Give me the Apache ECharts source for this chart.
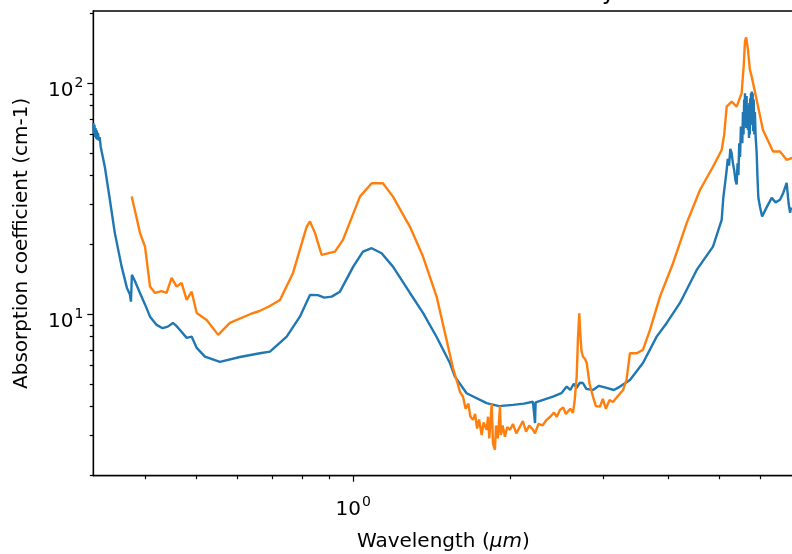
<!DOCTYPE html>
<html>
<head>
<meta charset="utf-8">
<script src="https://cdn.jsdelivr.net/npm/echarts@6/dist/echarts.min.js"></script>
<style>html,body{margin:0;padding:0;background:#fff}#c{width:792px;height:554px}</style>
</head>
<body>
<div id="c"></div>
<script>
// ---- data ----
const TITLE = 'Absorbance of chalcedony';
const X_NAME = 'Wavelength';
const Y_NAME = 'Absorption coefficient (cm-1)';
const X_MIN = 0.3184, X_MAX = 6.94;
const Y_MIN = 2, Y_MAX = 205.4;
const X_MAJOR = [1];
const X_MAJOR_EXP = ['0'];
const X_MINOR = [0.4, 0.5, 0.6, 0.7, 0.8, 0.9, 2, 3, 4, 5, 6];
const Y_MAJOR = [10, 100];
const Y_MAJOR_EXP = ['1', '2'];
const Y_MINOR = [2, 3, 4, 5, 6, 7, 8, 9, 20, 30, 40, 50, 60, 70, 80, 90, 200];

const BLUE_X = [0.3184,0.3192,0.3200,0.3208,0.3216,0.3224,0.3232,0.3240,0.3250,0.3262,0.3275,0.3290,0.3350,0.3425,0.3500,0.3607,0.3692,0.3740,0.3758,0.3774,0.3820,0.3910,0.4000,0.4087,0.4208,0.4320,0.4420,0.4520,0.4590,0.4663,0.4803,0.4909,0.5020,0.5205,0.5559,0.6071,0.6632,0.6929,0.7460,0.7906,0.8265,0.8560,0.8800,0.9093,0.9430,1.0000,1.0436,1.0844,1.1331,1.1910,1.2836,1.3595,1.4435,1.5303,1.5645,1.6470,1.7990,1.9000,2.0200,2.1200,2.2060,2.2200,2.2260,2.2320,2.2450,2.4090,2.5000,2.5590,2.6000,2.6400,2.6740,2.7100,2.7490,2.7900,2.8730,2.9500,3.0510,3.1500,3.2360,3.3810,3.5800,3.8030,3.9750,4.2140,4.5360,4.8730,5.0630,5.1000,5.1760,5.2000,5.2300,5.2600,5.2900,5.3200,5.3500,5.3800,5.4080,5.4300,5.4500,5.4700,5.4900,5.5100,5.5280,5.5450,5.5600,5.5750,5.5900,5.6000,5.6100,5.6200,5.6300,5.6400,5.6500,5.6600,5.6700,5.6840,5.6950,5.7100,5.7200,5.7300,5.7400,5.7500,5.7600,5.7700,5.7800,5.7900,5.8030,5.8150,5.8300,5.8450,5.8600,5.8800,5.9060,5.9300,5.9500,5.9930,6.0500,6.1710,6.3100,6.4200,6.5450,6.6400,6.7400,6.8000,6.8440,6.8700,6.9000,6.9400];
const BLUE_Y = [67.3,60.5,66.0,58.5,64.0,57.5,62.5,57.0,61.0,56.5,58.5,53.0,43.4,31.3,22.5,16.07,13.0,12.2,11.34,14.8,14.0,12.36,11.0,9.76,8.99,8.7,8.84,9.17,8.9,8.55,7.9,8.0,7.15,6.55,6.22,6.53,6.78,6.89,8.0,9.76,12.12,12.1,11.8,11.92,12.52,16.07,18.66,19.31,18.37,16.07,12.36,10.13,7.97,6.15,5.37,4.55,4.12,4.0,4.05,4.1,4.18,4.15,3.38,4.15,4.2,4.40,4.55,4.86,4.7,5.0,4.80,5.05,5.04,4.75,4.70,4.9,4.80,4.7,4.86,5.19,6.15,8.0,9.17,11.19,15.55,19.62,25.6,32.0,42.1,47.0,44.0,52.0,49.8,45.0,42.0,38.0,36.5,45.0,40.0,55.0,48.0,65.0,62.8,55.0,75.0,60.0,85.0,68.0,90.5,66.0,84.0,64.0,88.0,70.0,80.0,62.8,78.0,58.0,82.0,60.0,86.0,66.0,90.5,70.0,92.0,68.0,90.5,62.0,85.0,60.0,75.0,58.7,50.0,38.1,32.0,29.2,26.5,29.0,31.9,30.5,31.3,33.5,37.0,30.0,27.5,29.0];

const ORANGE_X = [0.3770,0.3840,0.3910,0.3998,0.4087,0.4178,0.4300,0.4396,0.4495,0.4595,0.4697,0.4803,0.4909,0.5020,0.5245,0.5517,0.5809,0.6346,0.6600,0.6900,0.7243,0.7671,0.8144,0.8265,0.8448,0.8701,0.9226,0.9557,1.0300,1.0844,1.1397,1.1910,1.2836,1.3595,1.4435,1.5510,1.5800,1.6000,1.6210,1.6400,1.6600,1.6750,1.6940,1.7100,1.7250,1.7400,1.7600,1.7750,1.7990,1.8100,1.8200,1.8400,1.8500,1.8660,1.8750,1.8900,1.9080,1.9150,1.9300,1.9500,1.9700,1.9940,2.0200,2.0500,2.0830,2.1100,2.1400,2.1700,2.2060,2.2260,2.2600,2.3000,2.3430,2.3800,2.4200,2.4500,2.4840,2.5200,2.5500,2.6000,2.6310,2.6500,2.6740,2.6900,2.7050,2.7150,2.7300,2.7490,2.7750,2.7950,2.8300,2.8730,2.9100,2.9630,3.0000,3.0400,3.0900,3.1380,3.2000,3.2800,3.3300,3.3810,3.4830,3.5800,3.6930,3.8590,4.0870,4.3400,4.6010,4.8730,5.0630,5.1200,5.1760,5.2900,5.4080,5.5280,5.5800,5.6100,5.6400,5.6840,5.7300,5.7780,5.9060,6.0730,6.3480,6.5450,6.7400,6.9000,6.9400];
const ORANGE_Y = [32.3,27.0,22.5,19.62,13.17,12.36,12.6,12.36,14.36,13.17,13.66,11.53,12.52,10.13,9.45,8.14,9.17,10.0,10.3,10.8,11.53,15.09,23.9,25.2,22.5,18.06,18.66,20.97,32.3,36.9,36.9,32.3,23.9,17.76,11.92,5.86,5.1,4.6,4.40,3.9,4.1,3.6,3.49,3.7,3.2,3.5,3.0,3.4,3.16,3.6,2.9,4.1,2.75,2.59,3.3,2.9,4.0,3.0,3.3,2.95,3.25,3.16,3.35,3.05,3.26,3.45,3.1,3.3,3.16,3.05,3.35,3.3,3.49,3.6,3.75,3.6,3.85,3.95,3.7,3.9,3.74,4.2,5.37,8.0,10.1,8.5,7.0,6.55,6.4,6.15,5.0,4.40,4.0,3.98,4.3,3.9,4.25,4.17,4.4,4.70,5.2,6.78,6.78,7.01,8.55,11.92,16.63,24.8,34.5,43.5,51.4,60.0,79.2,83.2,79.2,90.5,120,152,158,140,115,106.8,84.7,62.8,50.6,50.6,46.6,47.5,47.0];

// ---- chart ----
const FONT = 'DejaVu Sans';
const zip = (xs, ys) => xs.map((x, i) => [x, ys[i]]);
const rich = {
  b: { fontSize: 20, fontFamily: FONT, color: '#000', lineHeight: 24, verticalAlign: 'bottom' },
  s: { fontSize: 14, fontFamily: FONT, color: '#000', lineHeight: 24, verticalAlign: 'top', padding: [0, 0, 0, 1] }
};
const supLabel = (majors, exps) => (v) => {
  let idx = majors.findIndex(m => Math.abs(m - v) / m < 1e-6);
  return idx < 0 ? '' : '{b|10}{s|' + exps[idx] + '}';
};
const axisLine = { show: true, lineStyle: { color: '#000', width: 1.3 } };
const tickStyle = { color: '#000', width: 1.2 };

const chart = echarts.init(document.getElementById('c'), null, { renderer: 'canvas' });
chart.setOption({
  animation: false,
  backgroundColor: '#fff',
  graphic: [{
    type: 'text', x: 616, y: 5, silent: true,
    style: { text: TITLE, fontFamily: FONT, fontSize: 24, fill: '#000', align: 'right', verticalAlign: 'bottom' }
  }],
  grid: { left: 93.3, top: 11, width: 700, height: 464.7, show: true, borderColor: '#000', borderWidth: 1.3,
    backgroundColor: 'transparent', containLabel: false, outerBoundsMode: 'none' },
  xAxis: [
    {
      type: 'log', min: X_MIN, max: X_MAX, position: 'bottom',
      axisLine: axisLine,
      axisTick: { show: true, customValues: X_MAJOR, length: 6, lineStyle: tickStyle },
      minorTick: { show: false },
      axisLabel: { show: true, customValues: X_MAJOR, formatter: supLabel(X_MAJOR, X_MAJOR_EXP), rich: rich, margin: 20 },
      splitLine: { show: false },
      name: '{n|' + X_NAME + ' (}{i|μm}{n|)}', nameLocation: 'middle', nameGap: 56,
      nameTextStyle: { rich: {
        n: { fontFamily: FONT, fontSize: 20, color: '#000' },
        i: { fontFamily: FONT, fontSize: 20, fontStyle: 'italic', color: '#000' }
      } }
    },
    {
      type: 'log', min: X_MIN, max: X_MAX, position: 'bottom',
      axisLine: { show: false },
      axisTick: { show: true, customValues: X_MINOR, length: 3.5, lineStyle: tickStyle },
      axisLabel: { show: false },
      splitLine: { show: false }
    }
  ],
  yAxis: [
    {
      type: 'log', min: Y_MIN, max: Y_MAX, position: 'left',
      axisLine: axisLine,
      axisTick: { show: true, customValues: Y_MAJOR, length: 6, lineStyle: tickStyle },
      axisLabel: { show: true, customValues: Y_MAJOR, formatter: supLabel(Y_MAJOR, Y_MAJOR_EXP), rich: rich, margin: 10, padding: [11, 0, 0, 0] },
      splitLine: { show: false },
      name: Y_NAME, nameLocation: 'middle', nameGap: 62, nameRotate: 90,
      nameTextStyle: { fontFamily: FONT, fontSize: 20, color: '#000' }
    },
    {
      type: 'log', min: Y_MIN, max: Y_MAX, position: 'left',
      axisLine: { show: false },
      axisTick: { show: true, customValues: Y_MINOR, length: 3.5, lineStyle: tickStyle },
      axisLabel: { show: false },
      splitLine: { show: false }
    }
  ],
  series: [
    { type: 'line', name: 'blue', xAxisIndex: 0, yAxisIndex: 0, data: zip(BLUE_X, BLUE_Y), showSymbol: false, symbol: 'none',
      lineStyle: { color: '#1f77b4', width: 2.4 }, z: 2 },
    { type: 'line', name: 'orange', xAxisIndex: 0, yAxisIndex: 0, data: zip(ORANGE_X, ORANGE_Y), showSymbol: false, symbol: 'none',
      lineStyle: { color: '#ff7f0e', width: 2.4 }, z: 3 }
  ]
});
</script>
</body>
</html>
